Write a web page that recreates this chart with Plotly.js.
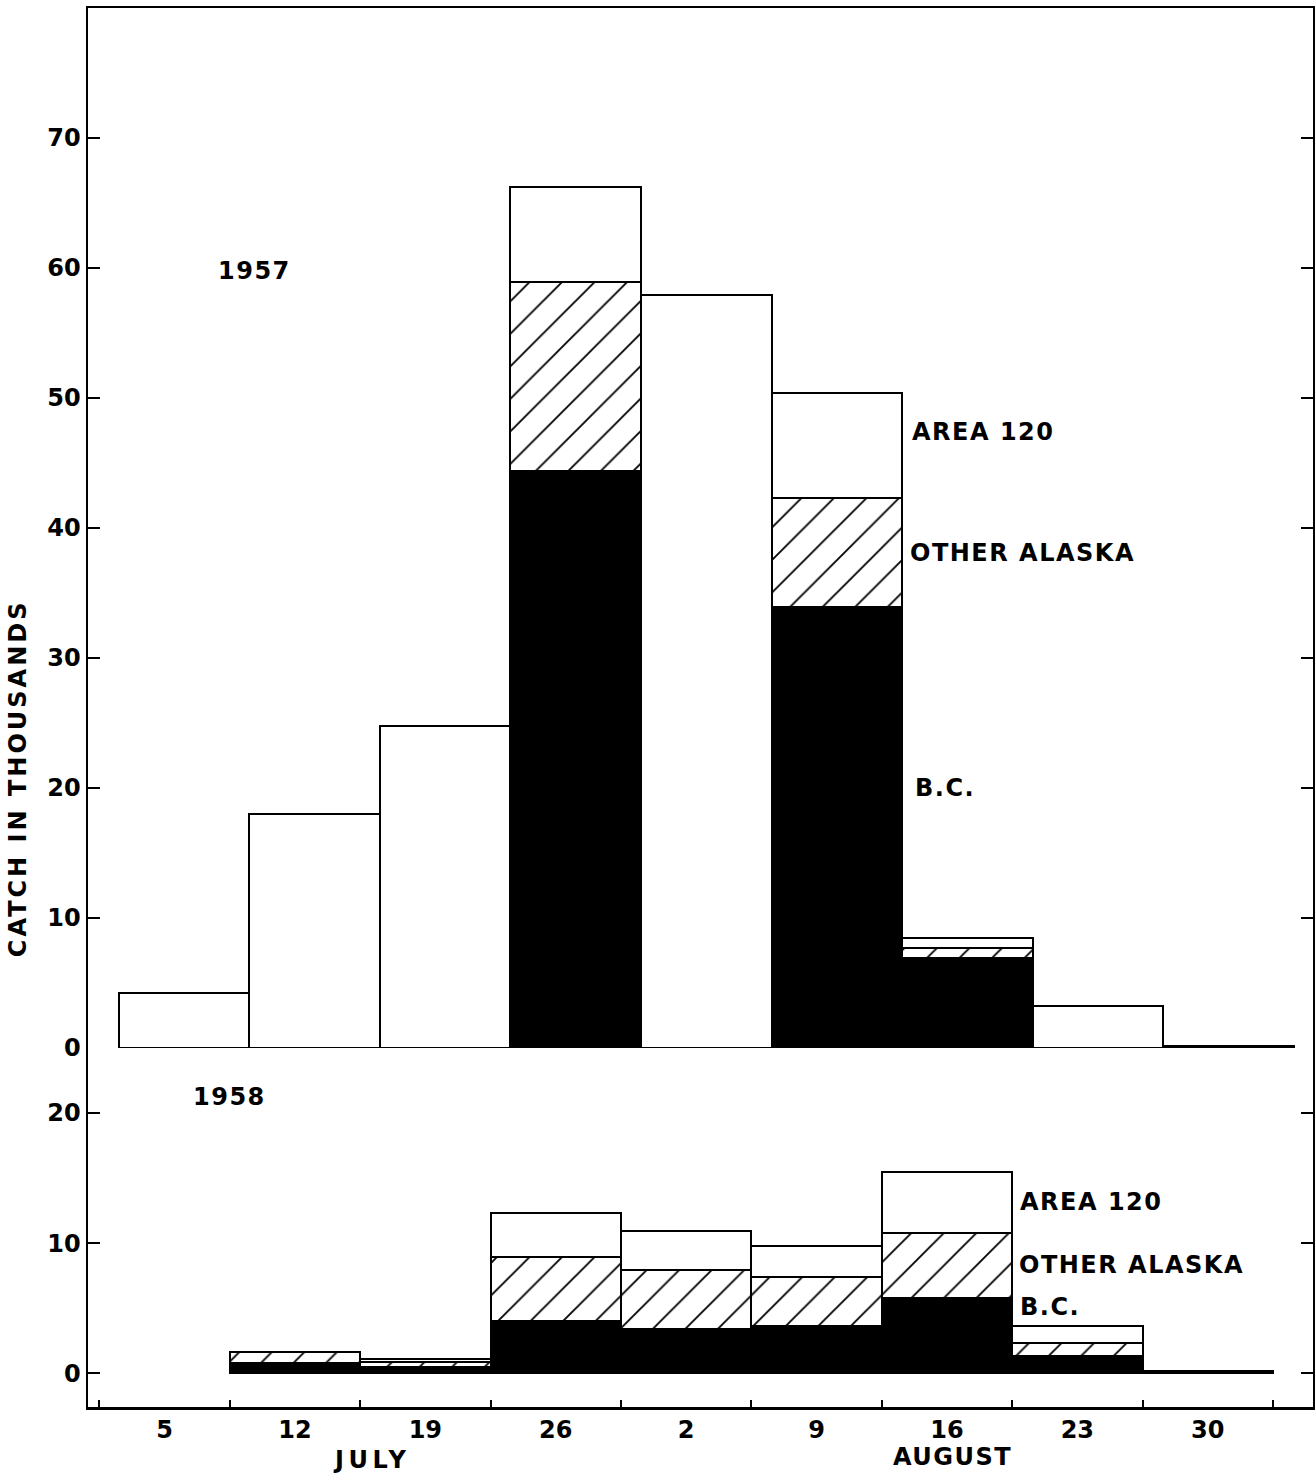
<!DOCTYPE html>
<html><head><meta charset="utf-8">
<script src="https://cdn.plot.ly/plotly-3.0.1.min.js"></script>
<style>
html,body{margin:0;padding:0;background:#fff;}
.annotation-text{letter-spacing:1.5px;}
</style>
</head><body><div id="chart" style="width:1315px;height:1473px;"></div>
<script>
// Week-ending dates (July 5 ... August 30)
const weeks = ["5","12","19","26","2","9","16","23","30"];
const monthLabels = ["JULY","AUGUST"];
const seriesLabels = ["AREA 120","OTHER ALASKA","B.C."];
const yearLabels = ["1957","1958"];

// 1957 catch in thousands (segments); weeks with no breakdown are totals only
const bc1957          = [null,null,null,44.4,null,33.9,6.95,null,null];
const otherAlaska1957 = [null,null,null,14.5,null,8.4,0.72,null,null];
const area120_1957    = [null,null,null,7.3,null,8.1,0.77,null,null];
const total1957       = [4.2,18.0,24.8,null,57.9,null,null,3.2,0.15];

// 1958 catch in thousands (segments)
const bc1958          = [null,0.8,0.5,4.0,3.4,3.6,5.8,1.3,null];
const otherAlaska1958 = [null,0.85,0.37,4.95,4.5,3.8,5.0,1.03,null];
const area120_1958    = [null,0,0.2,3.35,3.0,2.4,4.7,1.27,null];
const total1958       = [null,null,null,null,null,null,null,null,0.15];

const FONT = 'DejaVu Sans';
const outline = {color:'black', width:2};
function bcTrace(y, xa, ya){ return {type:'bar', x:weeks, y:y, xaxis:xa, yaxis:ya, name:'B.C.',
  marker:{color:'black', line:outline}, hoverinfo:'x+y'}; }
function oaTrace(y, xa, ya){ return {type:'bar', x:weeks, y:y, xaxis:xa, yaxis:ya, name:'OTHER ALASKA',
  marker:{color:'white', line:outline, pattern:{shape:'/', fgcolor:'black', bgcolor:'white', size:23, solidity:0.08}}, hoverinfo:'x+y'}; }
function a120Trace(y, xa, ya){ return {type:'bar', x:weeks, y:y, xaxis:xa, yaxis:ya, name:'AREA 120',
  marker:{color:'white', line:outline}, hoverinfo:'x+y'}; }
function totTrace(y, xa, ya){ return {type:'bar', x:weeks, y:y, xaxis:xa, yaxis:ya, name:'Total',
  marker:{color:'white', line:outline}, hoverinfo:'x+y'}; }

const data = [
  bcTrace(bc1957,'x2','y2'), oaTrace(otherAlaska1957,'x2','y2'), a120Trace(area120_1957,'x2','y2'), totTrace(total1957,'x2','y2'),
  bcTrace(bc1958,'x','y'), oaTrace(otherAlaska1958,'x','y'), a120Trace(area120_1958,'x','y'), totTrace(total1958,'x','y')
];

const tickFont = {family:FONT, size:24, color:'black', weight:'bold'};
const lblFont = {family:FONT, size:24, color:'black', weight:'bold'};
const split = 0.2566;

const layout = {
  width:1315, height:1473,
  margin:{l:88, r:2, t:8, b:66},
  paper_bgcolor:'white', plot_bgcolor:'white',
  barmode:'stack', bargap:0, showlegend:false,
  font:{family:FONT, size:24, color:'black'},
  xaxis:{type:'category', categoryorder:'array', categoryarray:weeks, range:[-0.587, 8.807],
    anchor:'y', showline:true, linewidth:2.5, linecolor:'black', mirror:false,
    ticks:'inside', ticklen:7, tickwidth:2, tickcolor:'black', tickson:'boundaries',
    showgrid:false, zeroline:false, tickfont:tickFont},
  yaxis:{domain:[0, split], range:[-2.6, 25], tickvals:[0,10,20], anchor:'x',
    ticks:'inside', ticklen:12, tickwidth:2, tickcolor:'black',
    showline:true, linewidth:2.5, linecolor:'black', mirror:'ticks',
    showgrid:false, zeroline:false, tickfont:tickFont},
  xaxis2:{type:'category', categoryorder:'array', categoryarray:weeks, range:[-0.735, 8.645],
    anchor:'y2', side:'top', showticklabels:false, ticks:'', showline:true, linewidth:2.5, linecolor:'black', mirror:false,
    showgrid:false, zeroline:false},
  yaxis2:{domain:[split, 1], range:[0, 80], tickvals:[0,10,20,30,40,50,60,70], anchor:'x2',
    ticks:'inside', ticklen:12, tickwidth:2, tickcolor:'black',
    showline:true, linewidth:2.5, linecolor:'black', mirror:'ticks',
    showgrid:false, zeroline:false, tickfont:tickFont},
  annotations:[
    {text:yearLabels[0], xref:'x2', yref:'y2', x:0.54, y:59.8, showarrow:false, font:lblFont, xanchor:'center', yanchor:'middle'},
    {text:yearLabels[1], xref:'x', yref:'y', x:0.50, y:21.2, showarrow:false, font:lblFont, xanchor:'center', yanchor:'middle'},
    {text:seriesLabels[0], xref:'x2', yref:'y2', x:5.56, y:47.4, showarrow:false, font:lblFont, xanchor:'left', yanchor:'middle'},
    {text:seriesLabels[1], xref:'x2', yref:'y2', x:5.54, y:38.1, showarrow:false, font:lblFont, xanchor:'left', yanchor:'middle'},
    {text:seriesLabels[2], xref:'x2', yref:'y2', x:5.58, y:20.0, showarrow:false, font:lblFont, xanchor:'left', yanchor:'middle'},
    {text:seriesLabels[0], xref:'x', yref:'y', x:6.545, y:13.15, showarrow:false, font:lblFont, xanchor:'left', yanchor:'middle'},
    {text:seriesLabels[1], xref:'x', yref:'y', x:6.54, y:8.3, showarrow:false, font:lblFont, xanchor:'left', yanchor:'middle'},
    {text:seriesLabels[2], xref:'x', yref:'y', x:6.545, y:5.1, showarrow:false, font:lblFont, xanchor:'left', yanchor:'middle'},
    {text:'<span style="letter-spacing:4.5px">' + monthLabels[0] + '</span>', xref:'x', yref:'paper', x:1.59, y:-0.0379, showarrow:false, font:lblFont, xanchor:'center', yanchor:'middle'},
    {text:monthLabels[1], xref:'x', yref:'paper', x:6.04, y:-0.0357, showarrow:false, font:lblFont, xanchor:'center', yanchor:'middle'},
    {text:'<span style="letter-spacing:3px">CATCH IN THOUSANDS</span>', xref:'paper', yref:'paper', x:-0.057, y:0.4496, textangle:-90, showarrow:false,
      font:{family:FONT, size:24, color:'black', weight:'bold'}, xanchor:'center', yanchor:'middle'}
  ]
};

Plotly.newPlot('chart', data, layout, {displayModeBar:false, staticPlot:true});
</script>
</body></html>
